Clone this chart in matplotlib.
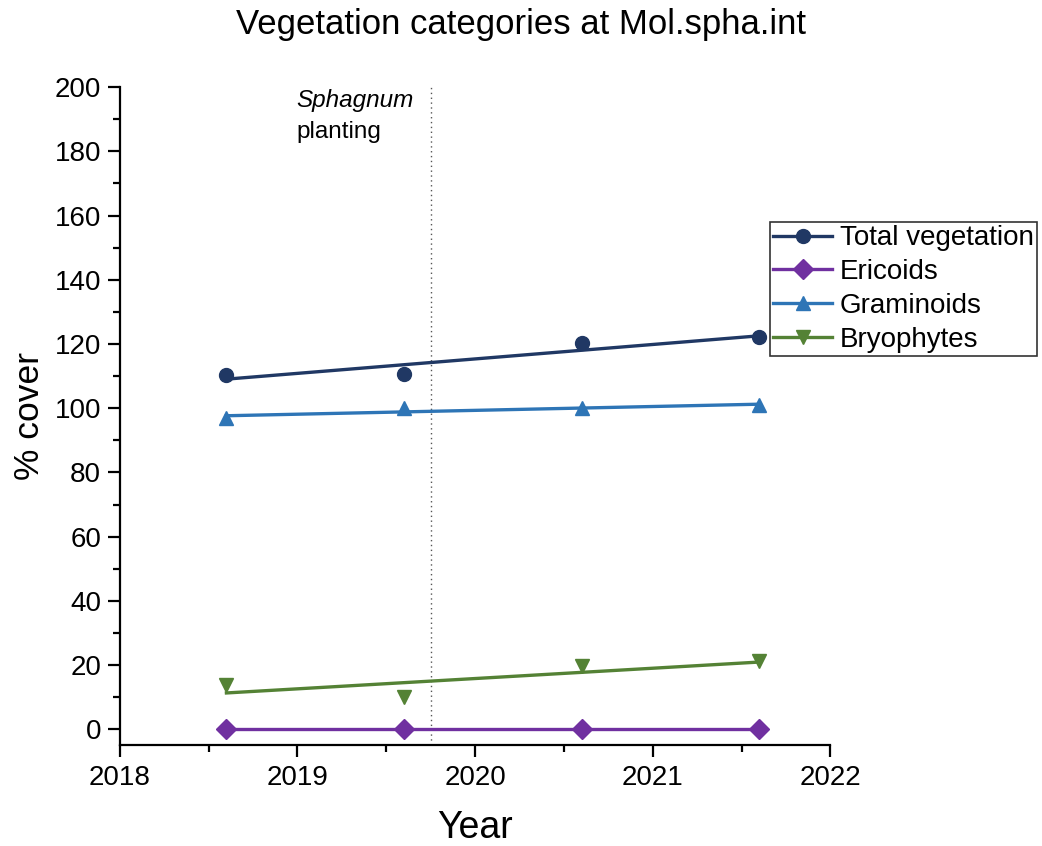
import numpy as np
import matplotlib.pyplot as plt
from matplotlib.lines import Line2D
from matplotlib.ticker import MultipleLocator

plt.rcParams['font.family'] = ['Liberation Sans', 'DejaVu Sans']

# Survey dates (fractional years) and % cover per vegetation category
years = [2018.6, 2019.6, 2020.6, 2021.6]
total_veg = [110.3, 110.6, 120.2, 122.1]
ericoids = [0, 0, 0, 0]
graminoids = [96.9, 100.0, 100.0, 100.9]
bryophytes = [13.7, 10.0, 19.6, 21.2]
planting_year = 2019.75

series = [
    ('Total vegetation', total_veg, '#203864', 'o'),
    ('Ericoids', ericoids, '#7030a0', 'D'),
    ('Graminoids', graminoids, '#2e75b6', '^'),
    ('Bryophytes', bryophytes, '#548235', 'v'),
]

fig = plt.figure(figsize=(10.42, 8.46), dpi=100)
ax = fig.add_axes([0.115, 0.119, 0.682, 0.778])

handles = []
x = np.array(years)
for name, vals, color, marker in series:
    vals = np.array(vals, dtype=float)
    # linear trend line through the survey points
    slope, icpt = np.polyfit(x, vals, 1)
    ax.plot(x, slope * x + icpt, color=color, lw=2.4, zorder=2)
    ax.plot(x, vals, ls='none', marker=marker, color=color, ms=10, zorder=3)
    handles.append(Line2D([], [], color=color, lw=2.4, marker=marker, ms=10, label=name))

ax.axvline(planting_year, color='#555555', lw=1, ls=(0, (1, 2.5)), zorder=1)
ax.text(2018.995, 199.5, 'Sphagnum', style='italic', fontsize=17.5, ha='left', va='top')
ax.text(2018.995, 189.5, 'planting', fontsize=17.5, ha='left', va='top')

ax.set_xlim(2018, 2022)
ax.set_ylim(-5, 200)
ax.xaxis.set_major_locator(MultipleLocator(1))
ax.xaxis.set_minor_locator(MultipleLocator(0.5))
ax.yaxis.set_major_locator(MultipleLocator(20))
ax.yaxis.set_minor_locator(MultipleLocator(10))

for side in ['top', 'right']:
    ax.spines[side].set_visible(False)
for side in ['left', 'bottom']:
    ax.spines[side].set_linewidth(1.6)
ax.tick_params(which='major', direction='out', length=8.5, width=1.6, labelsize=20)
ax.tick_params(which='minor', direction='out', length=5, width=1.6)
ax.tick_params(axis='x', pad=6)
ax.tick_params(axis='y', pad=5)

ax.set_xlabel('Year', fontsize=27, labelpad=13)
ax.set_ylabel('% cover', fontsize=25.5, labelpad=6)
fig.suptitle('Vegetation categories at Mol.spha.int', fontsize=25, y=0.99)

leg = ax.legend(handles=handles, loc='upper left', bbox_to_anchor=(0.915, 0.795),
                fontsize=20, frameon=True, fancybox=False, edgecolor='black',
                handlelength=2.1, handletextpad=0.3, labelspacing=0.28,
                borderpad=0.12, borderaxespad=0)
leg.get_frame().set_linewidth(1.2)

fig.savefig('out.png', dpi=100)
